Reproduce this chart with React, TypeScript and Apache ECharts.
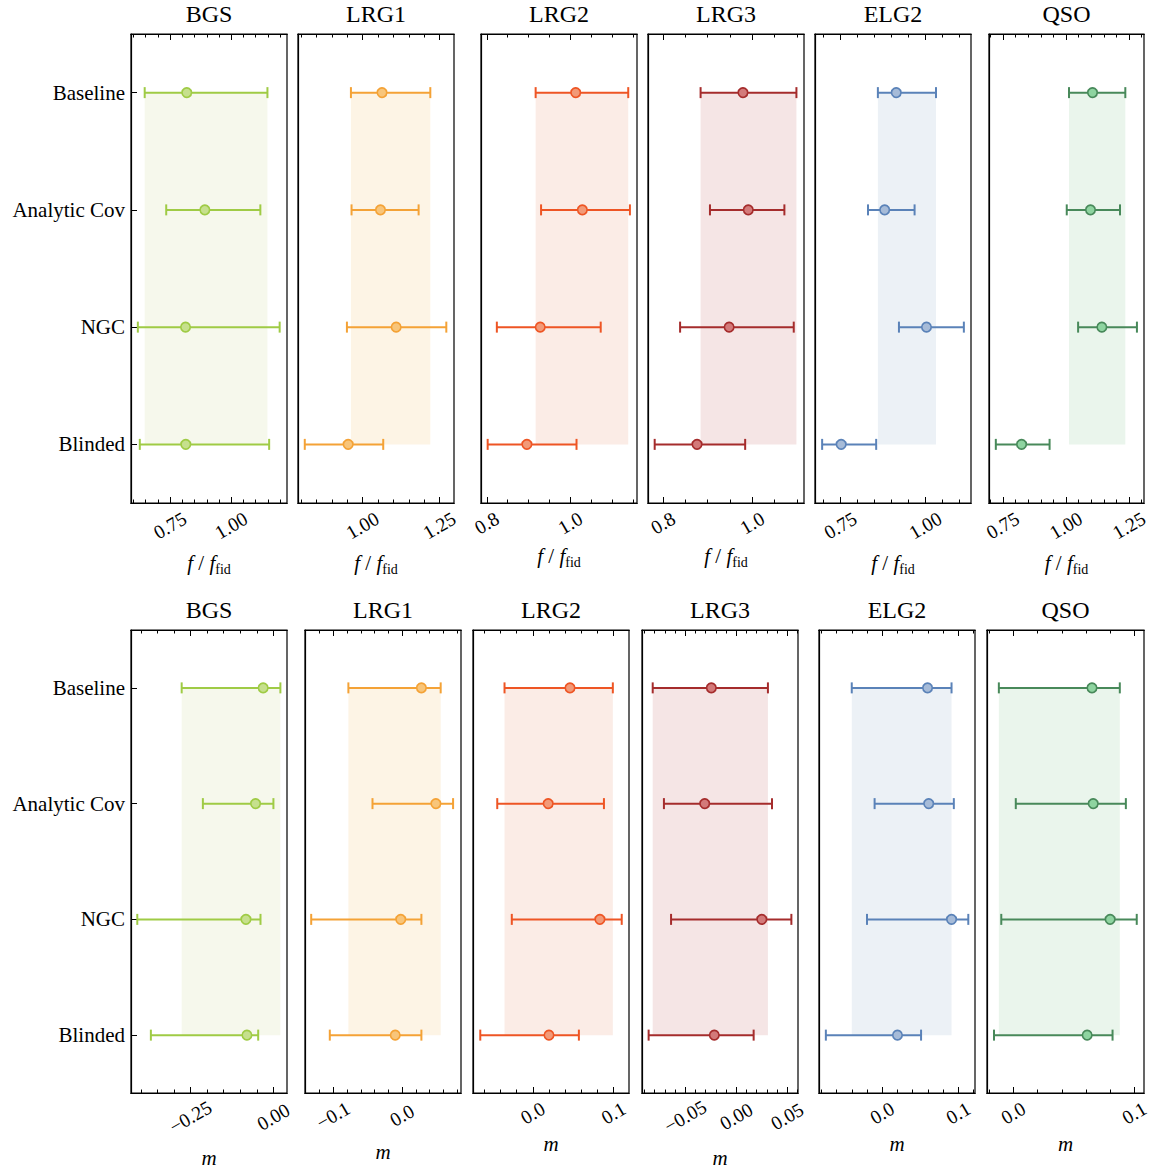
import React, { useEffect, useRef } from 'react';
import * as echarts from 'echarts';

const rows = ['Baseline', 'Analytic Cov', 'NGC', 'Blinded'];
const tracers = ['BGS', 'LRG1', 'LRG2', 'LRG3', 'ELG2', 'QSO'];

// f / f_fid (top row): per tracer, values for [Baseline, Analytic Cov, NGC, Blinded]
const fMid = [
  [0.818, 0.892, 0.813, 0.814],
  [1.063, 1.058, 1.109, 0.953],
  [1.013, 1.029, 0.928, 0.896],
  [0.979, 0.991, 0.948, 0.876],
  [0.914, 0.880, 1.003, 0.752],
  [1.105, 1.097, 1.142, 0.824],
];
const fLo = [
  [0.646, 0.734, 0.618, 0.626],
  [0.962, 0.964, 0.949, 0.812],
  [0.917, 0.930, 0.824, 0.802],
  [0.884, 0.905, 0.838, 0.781],
  [0.860, 0.831, 0.922, 0.696],
  [1.012, 1.003, 1.048, 0.722],
];
const fHi = [
  [1.148, 1.119, 1.198, 1.155],
  [1.220, 1.182, 1.272, 1.067],
  [1.139, 1.143, 1.073, 1.015],
  [1.099, 1.072, 1.093, 0.984],
  [1.031, 0.968, 1.113, 0.855],
  [1.235, 1.214, 1.281, 0.935],
];

// m (bottom row)
const mMid = [
  [-0.031, -0.054, -0.083, -0.080],
  [0.028, 0.049, -0.002, -0.010],
  [0.046, 0.019, 0.083, 0.020],
  [-0.0245, -0.031, 0.025, -0.0216],
  [0.0595, 0.061, 0.091, 0.020],
  [0.065, 0.066, 0.080, 0.061],
];
const mLo = [
  [-0.277, -0.213, -0.411, -0.370],
  [-0.078, -0.043, -0.132, -0.105],
  [-0.035, -0.044, -0.026, -0.065],
  [-0.082, -0.071, -0.064, -0.086],
  [-0.040, -0.010, -0.020, -0.074],
  [-0.012, 0.002, -0.010, -0.016],
];
const mHi = [
  [0.021, 0.000, -0.039, -0.046],
  [0.056, 0.074, 0.028, 0.028],
  [0.099, 0.088, 0.110, 0.057],
  [0.031, 0.035, 0.054, 0.017],
  [0.091, 0.094, 0.113, 0.051],
  [0.088, 0.093, 0.102, 0.082],
];

// axes
const fRange = [[0.59, 1.228], [0.79, 1.297], [0.786, 1.16], [0.766, 1.116], [0.675, 1.134], [0.695, 1.309]];
const fMajor = [[0.75, 1.0], [1.0, 1.25], [0.8, 1.0], [0.8, 1.0], [0.75, 1.0], [0.75, 1.0, 1.25]];
const fMinorStep = [0.05, 0.05, 0.05, 0.05, 0.05, 0.05];
const fDecimals = [2, 2, 1, 1, 2, 2];

const mRange = [[-0.43, 0.041], [-0.141, 0.0855], [-0.074, 0.119], [-0.0925, 0.0605], [-0.083, 0.1218], [-0.0218, 0.108]];
const mMajor = [[-0.25, 0], [-0.1, 0], [0, 0.1], [-0.05, 0, 0.05], [0, 0.1], [0, 0.1]];
const mMinorStep = [0.05, 0.02, 0.02, 0.01, 0.02, 0.02];
const mDecimals = [2, 1, 1, 2, 1, 1];

const lineColors = ['#9fcb45', '#f4a236', '#ee5524', '#a52c2c', '#5a82b8', '#48895a'];
const fillColors = ['#c6e08d', '#f8c57a', '#f29a78', '#d37a7a', '#a6bbd8', '#8ed4a0'];
const bandColors = ['#f6f8ec', '#fdf4e5', '#fbece6', '#f5e5e5', '#ecf1f6', '#eaf5ec'];

// layout
const topLefts = [131, 298, 481, 648, 815, 989];
const topWidths = [156, 156, 156, 156, 156, 155];
const botLefts = [131, 305, 473, 642, 819, 987];
const botWidths = [156, 156, 156, 156, 156, 157];
const TOP_Y = 34;
const TOP_H = 469;
const BOT_Y = 630;
const BOT_H = 463;
const topNameGap = [47, 47, 40, 40, 47, 47];
const botNameGap = [52, 46, 38, 52, 38, 38];
const topLabelMargin = [22.6, 22.6, 20.2, 20.2, 22.6, 22.6];
const botLabelMargin = [24, 22.5, 20.2, 23.5, 20.2, 20.2];

const FONT = 'Liberation Serif';

function minorValues(range: number[], step: number) {
  const out: number[] = [];
  const k0 = Math.ceil(range[0] / step - 1e-9);
  const k1 = Math.floor(range[1] / step + 1e-9);
  for (let k = k0; k <= k1; k++) out.push(Number((k * step).toFixed(6)));
  return out;
}

function fmt(dec: number) {
  return (v: number) => {
    const s = Math.abs(v).toFixed(dec);
    return v < -1e-9 ? '\u2212' + s : s;
  };
}

function buildOption() {
  const grid: any[] = [];
  const xAxis: any[] = [];
  const yAxis: any[] = [];
  const series: any[] = [];

  for (let r = 0; r < 2; r++) {
    for (let t = 0; t < 6; t++) {
      const left = r === 0 ? topLefts[t] : botLefts[t];
      const width = r === 0 ? topWidths[t] : botWidths[t];
      const top = r === 0 ? TOP_Y : BOT_Y;
      const height = r === 0 ? TOP_H : BOT_H;
      const range = r === 0 ? fRange[t] : mRange[t];
      const major = r === 0 ? fMajor[t] : mMajor[t];
      const minor = minorValues(range, r === 0 ? fMinorStep[t] : mMinorStep[t]);
      const dec = r === 0 ? fDecimals[t] : mDecimals[t];
      const mid = r === 0 ? fMid[t] : mMid[t];
      const lo = r === 0 ? fLo[t] : mLo[t];
      const hi = r === 0 ? fHi[t] : mHi[t];
      const color = lineColors[t];

      const gMain = grid.length;
      grid.push({
        left, top, width, height,
        show: true, borderColor: '#000', borderWidth: 1.2, backgroundColor: 'transparent',
        containLabel: false, outerBoundsMode: 'none',
      });
      const gOver = grid.length;
      grid.push({ left, top, width, height, show: false, containLabel: false, outerBoundsMode: 'none' });

      const tickStyle = { color: '#000', width: 1 };
      const lineStyle = { color: '#000', width: 1.2 };
      const xMain = xAxis.length;
      xAxis.push({
        gridIndex: gMain, type: 'value', position: 'bottom', min: range[0], max: range[1],
        axisLine: { show: true, onZero: false, lineStyle }, splitLine: { show: false },
        axisTick: { show: true, inside: true, length: 6, customValues: major, lineStyle: tickStyle },
        axisLabel: {
          show: true, customValues: major, formatter: fmt(dec), rotate: 30, align: 'center',
          verticalAlign: 'middle', margin: r === 0 ? topLabelMargin[t] : botLabelMargin[t],
          fontFamily: FONT, fontSize: 19.5, color: '#000',
        },
        name: r === 0 ? '{i|f} / {i|f}{s|fid}' : '{i|m}',
        nameLocation: 'middle',
        nameGap: r === 0 ? topNameGap[t] : botNameGap[t],
        nameTextStyle: {
          fontFamily: FONT, fontSize: 21, color: '#000', lineHeight: 26,
          rich: {
            i: { fontFamily: FONT, fontStyle: 'italic', fontSize: 21, lineHeight: 26, color: '#000' },
            s: { fontFamily: FONT, fontSize: 14, lineHeight: 14, padding: [12, 0, 0, 0], color: '#000' },
          },
        },
      });
      // top axis: mirrored major ticks + panel title as its name
      xAxis.push({
        gridIndex: gMain, type: 'value', position: 'top', min: range[0], max: range[1],
        axisLine: { show: true, onZero: false, lineStyle }, splitLine: { show: false }, axisLabel: { show: false },
        axisTick: { show: true, inside: true, length: 6, customValues: major, lineStyle: tickStyle },
        name: tracers[t],
        nameLocation: 'middle',
        nameGap: 8,
        nameTextStyle: { fontFamily: FONT, fontSize: 24, fontWeight: 'normal', color: '#000' },
      });
      xAxis.push({
        gridIndex: gOver, type: 'value', position: 'bottom', min: range[0], max: range[1],
        axisLine: { show: true, onZero: false, lineStyle }, splitLine: { show: false }, axisLabel: { show: false },
        axisTick: { show: true, inside: true, length: 3.5, customValues: minor, lineStyle: tickStyle },
      });
      xAxis.push({
        gridIndex: gOver, type: 'value', position: 'top', min: range[0], max: range[1],
        axisLine: { show: true, onZero: false, lineStyle }, splitLine: { show: false }, axisLabel: { show: false },
        axisTick: { show: true, inside: true, length: 3.5, customValues: minor, lineStyle: tickStyle },
      });

      const yMain = yAxis.length;
      yAxis.push({
        gridIndex: gMain, type: 'category', data: rows, inverse: true, boundaryGap: true,
        axisLine: { show: true, onZero: false, lineStyle }, splitLine: { show: false },
        axisTick: { show: t === 0, inside: true, alignWithLabel: true, length: 6, interval: 0, lineStyle: tickStyle },
        axisLabel: { show: t === 0, interval: 0, margin: 6, fontFamily: FONT, fontSize: 21, color: '#000' },
      });
      yAxis.push({ gridIndex: gOver, type: 'value', show: false, min: 0, max: 1 });

      // shaded band: baseline interval spanning Baseline -> Blinded
      series.push({
        type: 'custom', xAxisIndex: xMain, yAxisIndex: yMain, silent: true, z: 1,
        data: [[lo[0], hi[0], 0, rows.length - 1]],
        encode: { x: [0, 1], y: [2, 3] },
        renderItem: (params: any, api: any) => {
          const p1 = api.coord([api.value(0), api.value(2)]);
          const p2 = api.coord([api.value(1), api.value(3)]);
          return {
            type: 'rect',
            shape: { x: p1[0], y: Math.min(p1[1], p2[1]), width: p2[0] - p1[0], height: Math.abs(p2[1] - p1[1]) },
            style: { fill: bandColors[t] },
          };
        },
      });

      // error bars
      series.push({
        type: 'custom', xAxisIndex: xMain, yAxisIndex: yMain, silent: true, z: 2,
        data: rows.map((_, i) => [lo[i], hi[i], i]),
        encode: { x: [0, 1], y: 2 },
        renderItem: (params: any, api: any) => {
          const yv = api.value(2);
          const a = api.coord([api.value(0), yv]);
          const b = api.coord([api.value(1), yv]);
          const cap = 5.5;
          const style = { stroke: color, lineWidth: 2, fill: 'none' };
          return {
            type: 'group',
            children: [
              { type: 'line', shape: { x1: a[0], y1: a[1], x2: b[0], y2: b[1] }, style },
              { type: 'line', shape: { x1: a[0], y1: a[1] - cap, x2: a[0], y2: a[1] + cap }, style },
              { type: 'line', shape: { x1: b[0], y1: b[1] - cap, x2: b[0], y2: b[1] + cap }, style },
            ],
          };
        },
      });

      // central values
      series.push({
        type: 'scatter', xAxisIndex: xMain, yAxisIndex: yMain, z: 3, silent: true,
        data: rows.map((_, i) => [mid[i], i]),
        symbol: 'circle', symbolSize: 9.5,
        itemStyle: { color: fillColors[t], borderColor: color, borderWidth: 1.6, opacity: 1 },
      });
    }
  }

  return { animation: false, backgroundColor: '#fff', grid, xAxis, yAxis, series };
}

export default function App() {
  const ref = useRef<HTMLDivElement>(null);
  useEffect(() => {
    document.body.style.margin = '0';
    const chart = echarts.init(ref.current!, null, { renderer: 'svg' });
    chart.setOption(buildOption() as any);
    return () => chart.dispose();
  }, []);
  return <div ref={ref} style={{ width: 1158, height: 1169 }} />;
}
